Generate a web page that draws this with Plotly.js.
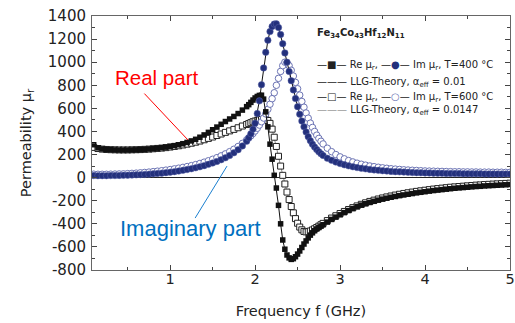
<!DOCTYPE html>
<html>
<head>
<meta charset="utf-8">
<script src="https://cdn.plot.ly/plotly-3.0.1.min.js"></script>
<style>
  html, body { margin: 0; padding: 0; background: #fff; }
  #chart { width: 515px; height: 323px; }
</style>
</head>
<body>
<div id="chart"></div>
<script>
// Frequency grid (GHz)
const freq = [
  0.10,0.15,0.20,0.25,0.30,0.35,0.40,0.45,0.50,0.55,0.60,0.65,0.70,0.75,0.80,0.85,0.90,0.95,
  1.00,1.05,1.10,1.15,1.20,1.25,1.30,1.35,1.40,1.45,1.50,1.55,1.60,1.65,1.70,1.75,1.80,1.85,
  1.900,1.925,1.950,1.975,2.000,2.025,2.050,2.075,2.100,2.125,2.150,2.175,2.200,2.225,2.250,2.275,
  2.300,2.325,2.350,2.375,2.400,2.425,2.450,2.475,2.500,2.525,2.550,2.575,2.600,2.625,2.650,2.675,
  2.700,2.725,2.750,2.775,2.800,
  2.85,2.90,2.95,3.00,3.05,3.10,3.15,3.20,3.25,3.30,3.35,3.40,3.45,3.50,3.55,3.60,3.65,3.70,3.75,
  3.80,3.85,3.90,3.95,4.00,4.05,4.10,4.15,4.20,4.25,4.30,4.35,4.40,4.45,4.50,4.55,4.60,4.65,4.70,
  4.75,4.80,4.85,4.90,4.95,5.00
];

// T = 400 °C, real part
const re400 = [
  285,258,248,244,242,240,239,239,239,240,241,243,245,248,251,255,259,264,
  270,277,285,294,305,318,332,350,370,392,415,438,462,486,508,530,555,585,
  615,632,652,672,690,703,712,714,680,570,440,290,160,20,-90,-240,
  -400,-540,-620,-670,-695,-708,-702,-685,-662,-635,-605,-575,-548,-522,-498,-478,
  -460,-445,-432,-420,-408,
  -385,-362,-342,-322,-303,-285,-268,-252,-238,-226,-215,-205,-195,-186,-178,-170,-163,-156,-150,
  -144,-138,-132,-127,-122,-117,-112,-108,-104,-100,-96,-92,-89,-86,-83,-80,-77,-75,-72,
  -70,-68,-66,-64,-62,-60
];

// T = 400 °C, imaginary part
const im400 = [
  18,17,17,17,18,18,19,20,21,22,24,26,28,30,33,36,39,43,
  47,52,57,63,70,77,85,94,104,115,127,140,155,172,192,215,242,275,
  315,345,380,420,470,555,665,805,950,1085,1190,1265,1308,1330,1332,1300,
  1240,1160,1080,1000,920,840,760,685,615,550,490,440,395,355,320,290,
  265,243,224,207,192,
  168,150,135,122,111,102,94,87,81,76,71,67,63,60,57,54,52,50,48,
  46,44,43,42,41,40,39,38,37,36,36,35,35,34,34,33,33,33,32,
  32,32,31,31,31,31
];

// T = 600 °C, real part
const re600 = [
  262,252,247,244,242,241,240,240,240,241,242,243,245,247,250,253,256,260,
  265,270,276,283,290,298,307,317,328,340,352,365,378,392,405,418,432,447,
  460,468,476,484,490,496,500,503,504,503,495,470,420,350,270,185,
  100,20,-55,-125,-190,-250,-305,-355,-395,-428,-452,-466,-470,-468,-462,-453,
  -443,-432,-420,-408,-396,
  -372,-350,-330,-311,-293,-276,-260,-245,-231,-218,-206,-195,-185,-176,-167,-159,-151,-144,-137,
  -131,-125,-119,-114,-109,-104,-99,-95,-91,-87,-83,-80,-77,-74,-71,-68,-65,-63,-60,
  -58,-56,-54,-52,-50,-48
];

// T = 600 °C, imaginary part
const im600 = [
  30,29,29,29,30,31,32,33,35,37,39,42,45,48,52,56,60,65,
  70,76,82,89,96,104,113,123,134,146,159,173,189,206,225,246,270,297,
  327,344,362,382,404,428,455,484,516,552,592,636,684,735,800,860,
  920,970,1000,995,970,930,880,825,770,715,660,610,560,515,472,435,
  400,368,340,315,292,
  255,225,200,180,163,148,136,125,116,108,101,95,90,85,81,77,74,71,68,
  66,64,62,60,58,57,56,55,54,53,52,51,51,50,50,49,49,48,48,
  48,47,47,47,46,46
];

const yTicks = [-800,-600,-400,-200,0,200,400,600,800,1000,1200,1400];
const xTicks = [1,2,3,4,5];

const FONT = 'DejaVu Sans, Arial, sans-serif';
const CALLOUT_FONT = 'Liberation Sans, Arial, sans-serif';
const NAVY = '#23307c';
const SLATE = '#6c74b4';
const MS = 6.5;

const traces = [
  { x: freq, y: re600, mode: 'lines+markers', name: 'Re 600',
    line: { color: '#8a8a8a', width: 1 },
    marker: { symbol: 'square', size: MS - 0.5, color: '#ffffff', line: { color: '#222', width: 1 } } },
  { x: freq, y: im600, mode: 'lines+markers', name: 'Im 600',
    line: { color: '#8a8a8a', width: 1 },
    marker: { symbol: 'circle', size: MS, color: '#ffffff', line: { color: SLATE, width: 1 } } },
  { x: freq, y: re400, mode: 'lines+markers', name: 'Re 400',
    line: { color: '#111', width: 1 },
    marker: { symbol: 'square', size: MS - 1, color: '#111', line: { width: 0 } } },
  { x: freq, y: im400, mode: 'lines+markers', name: 'Im 400',
    line: { color: '#111', width: 1 },
    marker: { symbol: 'circle', size: MS, color: NAVY, line: { color: '#5a64a8', width: 0.5 } } }
];

const lx = 0.533;
const legendFont = { family: FONT, size: 10, color: '#222' };
function row(y, text) {
  return { xref: 'paper', yref: 'paper', x: lx, y: y, xanchor: 'left', yanchor: 'middle',
           showarrow: false, text: text, font: legendFont };
}
const annotations = [
  { xref: 'paper', yref: 'paper', x: lx, y: 0.932, xanchor: 'left', yanchor: 'middle', showarrow: false,
    text: '<b>Fe<sub>34</sub>Co<sub>43</sub>Hf<sub>12</sub>N<sub>11</sub></b>', font: { family: FONT, size: 10, color: '#222' } },
  row(0.806, '—■— Re μ<sub>r</sub>, —<span style="color:' + NAVY + '">●</span>— Im μ<sub>r</sub>, T=400 °C'),
  row(0.740, '——— LLG-Theory, α<sub>eff</sub> = 0.01'),
  row(0.681, '—□— Re μ<sub>r</sub>, —<span style="color:' + SLATE + '">○</span>— Im μ<sub>r</sub>, T=600 °C'),
  row(0.629, '<span style="color:#999">———</span> LLG-Theory, α<sub>eff</sub> = 0.0147'),
  // callout labels and their leader lines
  { xref: 'x', yref: 'y', x: 0.834, y: 871, showarrow: false,
    text: 'Real part', font: { family: CALLOUT_FONT, size: 20.5, color: '#ff0000' } },
  { xref: 'x', yref: 'y', x: 1.21, y: 326, ax: 0.68, ay: 741, axref: 'x', ayref: 'y',
    showarrow: true, arrowhead: 0, arrowwidth: 1, arrowcolor: '#ff0000', standoff: 0, startstandoff: 0,
    text: '' },
  { xref: 'x', yref: 'y', x: 1.234, y: -437, showarrow: false,
    text: 'Imaginary part', font: { family: CALLOUT_FONT, size: 22, color: '#0070c0' } },
  { xref: 'x', yref: 'y', x: 1.669, y: 100, ax: 1.283, ay: -363, axref: 'x', ayref: 'y',
    showarrow: true, arrowhead: 0, arrowwidth: 1, arrowcolor: '#1a7fd0', standoff: 0, startstandoff: 0,
    text: '' }
];

const layout = {
  width: 515, height: 323,
  margin: { l: 92, r: 5, t: 16, b: 53 },
  paper_bgcolor: '#fff', plot_bgcolor: '#fff',
  showlegend: false,
  font: { family: FONT, color: '#222' },
  xaxis: {
    range: [0.08, 5], tickvals: xTicks, ticktext: xTicks.map(String),
    ticks: 'inside', ticklen: 5, tickcolor: '#444', mirror: 'allticks',
    showline: true, linecolor: '#666', linewidth: 1, showgrid: false, zeroline: false,
    minor: { tickvals: [0.5,1.5,2.5,3.5,4.5], ticks: 'inside', ticklen: 3, tickcolor: '#444' },
    tickfont: { family: FONT, size: 14.5, color: '#222' },
    ticklabelstandoff: -4,
    title: { text: 'Frequency f (GHz)', font: { family: FONT, size: 14.5, color: '#222' }, standoff: 19 }
  },
  yaxis: {
    range: [-800, 1400], tickvals: yTicks, ticktext: yTicks.map(String),
    ticks: 'inside', ticklen: 5, tickcolor: '#444', mirror: 'allticks',
    showline: true, linecolor: '#666', linewidth: 1, showgrid: false,
    zeroline: true, zerolinecolor: '#222', zerolinewidth: 1,
    minor: { dtick: 100, tick0: 0, ticks: 'inside', ticklen: 3, tickcolor: '#444' },
    tickfont: { family: FONT, size: 15, color: '#222' },
    ticklabelstandoff: 2,
    title: { text: 'Permeability μ<sub>r</sub>', font: { family: FONT, size: 14.5, color: '#222' }, standoff: 12 }
  },
  annotations: annotations
};

Plotly.newPlot('chart', traces, layout, { displayModeBar: false, staticPlot: true });
</script>
</body>
</html>
